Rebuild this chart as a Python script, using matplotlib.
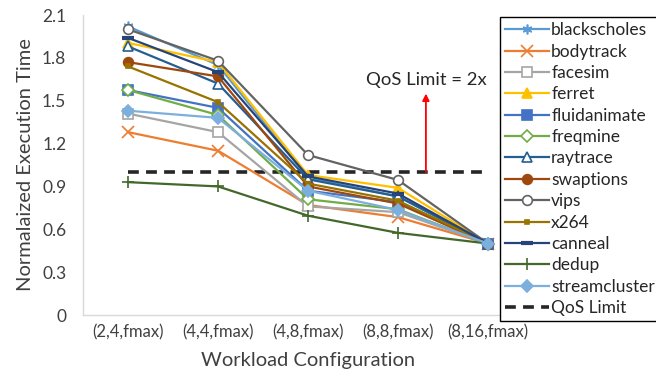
import matplotlib
matplotlib.use("Agg")
import matplotlib.pyplot as plt

plt.rcParams['font.family'] = ['Lato', 'DejaVu Sans']

configs = ["(2,4,fmax)", "(4,4,fmax)", "(4,8,fmax)", "(8,8,fmax)", "(8,16,fmax)"]

blackscholes = [2.02, 1.75, 0.96, 0.83, 0.50]
bodytrack = [1.28, 1.15, 0.77, 0.685, 0.50]
facesim = [1.41, 1.28, 0.76, 0.72, 0.50]
ferret = [1.905, 1.77, 0.98, 0.89, 0.50]
fluidanimate = [1.575, 1.45, 0.87, 0.79, 0.50]
freqmine = [1.575, 1.40, 0.81, 0.74, 0.50]
raytrace = [1.88, 1.62, 0.95, 0.83, 0.50]
swaptions = [1.77, 1.67, 0.90, 0.78, 0.50]
vips = [2.00, 1.78, 1.12, 0.945, 0.50]
x264 = [1.74, 1.49, 0.92, 0.80, 0.50]
canneal = [1.94, 1.70, 0.97, 0.85, 0.50]
dedup = [0.93, 0.90, 0.695, 0.575, 0.50]
streamcluster = [1.43, 1.38, 0.87, 0.735, 0.50]
qos_limit = 1.0

series = [
    ("blackscholes", blackscholes, "#5B9BD5", (6, 2, 0), True),
    ("bodytrack", bodytrack, "#ED7D31", "x", True),
    ("facesim", facesim, "#A5A5A5", "s", False),
    ("ferret", ferret, "#FFC000", "^", True),
    ("fluidanimate", fluidanimate, "#4472C4", "s", True),
    ("freqmine", freqmine, "#70AD47", "D", False),
    ("raytrace", raytrace, "#255E91", "^", False),
    ("swaptions", swaptions, "#9E480E", "o", True),
    ("vips", vips, "#636363", "o", False),
    ("x264", x264, "#997300", "s", True),
    ("canneal", canneal, "#264478", "_", True),
    ("dedup", dedup, "#43682B", "+", True),
    ("streamcluster", streamcluster, "#7CAFDD", "D", True),
]

fig = plt.figure(figsize=(6.56, 3.76), dpi=100)
ax = fig.add_axes([83/656, 1-315/376, 450/656, 300/376])

x = list(range(len(configs)))
for name, vals, col, mk, filled in series:
    ms = 7
    if name == "x264":
        ms = 3
    if mk in ("D",):
        ms = 6
    if mk == "_":
        ms = 9
    if mk in ("x", "+"):
        ms = 9
    kw = dict(color=col, lw=1.6, marker=mk, markersize=ms, label=name,
              markeredgecolor=col, markeredgewidth=1.2)
    if mk == "_":
        kw['markeredgewidth'] = 3
    if filled:
        kw['markerfacecolor'] = col
    else:
        kw['markerfacecolor'] = 'white'
    ax.plot(x, vals, **kw)

ax.plot(x, [qos_limit]*len(x), color="#262626", lw=2.6, ls=(0, (3, 2)),
        label="QoS Limit", zorder=1.5)

arrow_x = 3.31
ax.annotate("", xy=(arrow_x, 1.55), xytext=(arrow_x, qos_limit),
            arrowprops=dict(arrowstyle="-|>", color="#FF0000", lw=1.3,
                            mutation_scale=10, shrinkA=0, shrinkB=0))
ax.text(arrow_x, 1.645, "QoS Limit = 2x", ha="center", va="center",
        fontsize=13.3, color="#262626")

ax.set_xlim(-0.5, len(configs)-0.5)
ax.set_ylim(0, 2.1)
ax.set_xticks(x)
ax.set_xticklabels(configs)
yt = [0, 0.3, 0.6, 0.9, 1.2, 1.5, 1.8, 2.1]
ax.set_yticks(yt)
ax.set_yticklabels(["0" if v == 0 else f"{v:.1f}" for v in yt])
ax.tick_params(axis='x', length=0, labelsize=12, colors="#404040", pad=7)
ax.tick_params(axis='y', length=0, labelsize=12.5, colors="#404040", pad=12)
for s in ("top", "right"):
    ax.spines[s].set_visible(False)
for s in ("left", "bottom"):
    ax.spines[s].set_color("#D9D9D9")
    ax.spines[s].set_linewidth(1)

ax.set_xlabel("Workload Configuration", fontsize=14.5, color="#404040", labelpad=8)
ax.set_ylabel("Normalaized Execution Time", fontsize=14.5, color="#404040", labelpad=6)

h, l = ax.get_legend_handles_labels()
leg = fig.legend(h, l, loc="upper left", bbox_to_anchor=(500/656, 1-17/376),
                 fontsize=12.5, frameon=True, fancybox=False, framealpha=1,
                 edgecolor="black", handlelength=2.5, handletextpad=0.15,
                 labelspacing=0.31, borderpad=0.3, borderaxespad=0)
leg.get_frame().set_linewidth(1)
for t in leg.get_texts():
    t.set_color("#262626")

fig.savefig("out.png", dpi=100)
